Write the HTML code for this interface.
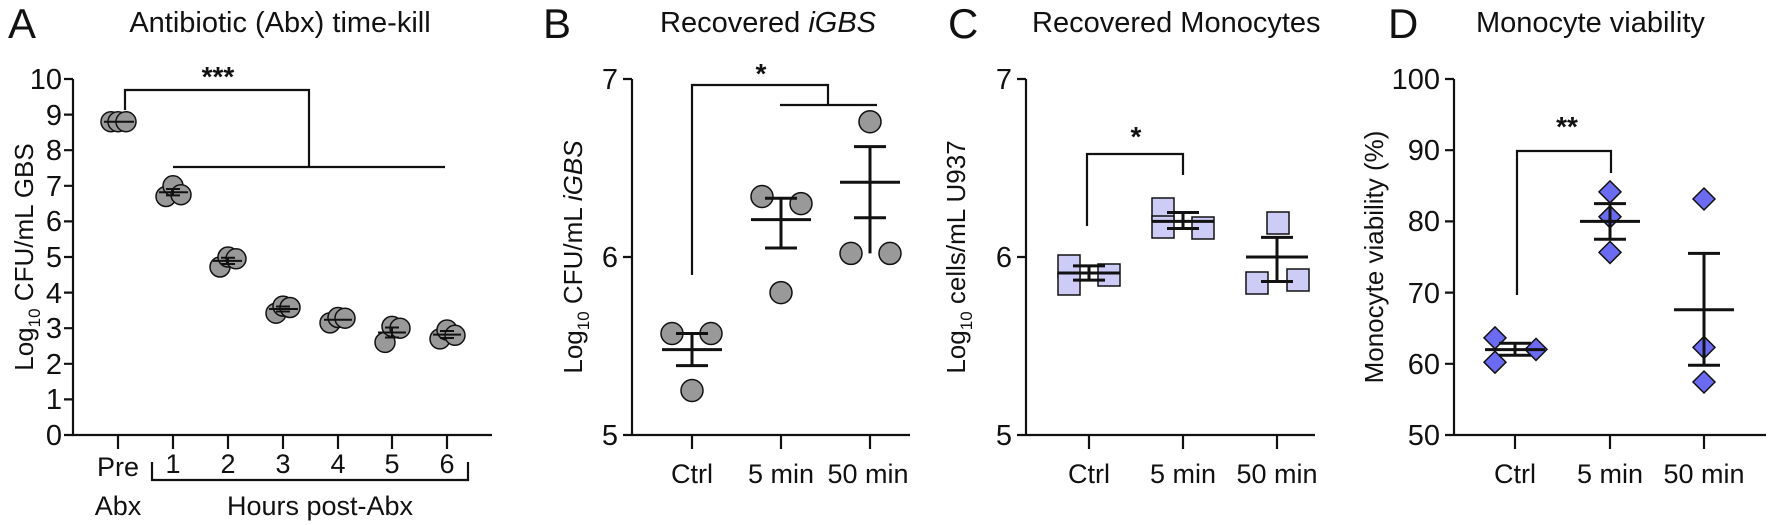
<!DOCTYPE html>
<html><head><meta charset="utf-8"><style>
html,body{margin:0;padding:0;background:#fff;}
svg{display:block;font-family:"Liberation Sans",Arial,sans-serif;}
</style></head><body>
<svg width="1770" height="525" viewBox="0 0 1770 525" xmlns="http://www.w3.org/2000/svg">
<g fill="#111">
<text x="8" y="38" font-size="42">A</text>
<text x="280" y="32" font-size="29" text-anchor="middle">Antibiotic (Abx) time-kill</text>
<text x="543" y="38" font-size="42">B</text>
<text x="660" y="32" font-size="29">Recovered <tspan font-style="italic">iGBS</tspan></text>
<text x="948" y="38" font-size="42">C</text>
<text x="1032" y="32" font-size="29">Recovered Monocytes</text>
<text x="1388" y="38" font-size="42">D</text>
<text x="1476" y="32" font-size="29">Monocyte viability</text>
</g>
<g stroke="#111" stroke-width="2.2" fill="none">
<path d="M73 79V435H492"/>
<path d="M64 79H73M64 114.6H73M64 150.2H73M64 185.8H73M64 221.4H73M64 257H73M64 292.6H73M64 328.2H73M64 363.8H73M64 399.4H73M64 435H73"/>
<path d="M118 435v14M173 435v14M228 435v14M283 435v14M338 435v14M392 435v14M447 435v14"/>
<path d="M152 462V480H468V462"/>
<path d="M125 110V90H309V167M173 167H445"/>
<path d="M632 79V435H910M623 79H632M623 257H632M623 435H632M692 435v14M781 435v14M870 435v14"/>
<path d="M692 275V85H828V105M780 105H877"/>
<path d="M1026 79V435H1315M1017 79H1026M1017 257H1026M1017 435H1026M1089 435v14M1183 435v14M1277 435v14"/>
<path d="M1087 226V154H1183V175"/>
<path d="M1454 79V435H1766M1445 79H1454M1445 150.2H1454M1445 221.4H1454M1445 292.6H1454M1445 363.8H1454M1445 435H1454M1515 435v14M1610 435v14M1704 435v14"/>
<path d="M1517 295V151H1611V173"/>
</g>
<g font-size="29" fill="#111" text-anchor="end">
<text x="62" y="89">10</text><text x="62" y="125">9</text><text x="62" y="160">8</text><text x="62" y="196">7</text><text x="62" y="231">6</text><text x="62" y="267">5</text><text x="62" y="303">4</text><text x="62" y="338">3</text><text x="62" y="374">2</text><text x="62" y="409">1</text><text x="62" y="445">0</text>
<text x="618" y="89">7</text><text x="618" y="267">6</text><text x="618" y="445">5</text>
<text x="1012" y="89">7</text><text x="1012" y="267">6</text><text x="1012" y="445">5</text>
<text x="1440" y="89">100</text><text x="1440" y="160">90</text><text x="1440" y="231">80</text><text x="1440" y="303">70</text><text x="1440" y="374">60</text><text x="1440" y="445">50</text>
</g>
<g font-size="27" fill="#111" text-anchor="middle">
<text x="118" y="476">Pre</text><text x="118" y="515">Abx</text>
<text x="173" y="473">1</text><text x="228" y="473">2</text><text x="283" y="473">3</text><text x="338" y="473">4</text><text x="392" y="473">5</text><text x="447" y="473">6</text>
<text x="320" y="515">Hours post-Abx</text>
<text x="692" y="483">Ctrl</text><text x="781" y="483">5 min</text><text x="868" y="483">50 min</text>
<text x="1089" y="483">Ctrl</text><text x="1183" y="483">5 min</text><text x="1277" y="483">50 min</text>
<text x="1515" y="483">Ctrl</text><text x="1610" y="483">5 min</text><text x="1704" y="483">50 min</text>
</g>
<g font-size="28" fill="#111" text-anchor="middle" font-weight="bold">
<text x="218" y="86">***</text>
<text x="761" y="83">*</text>
<text x="1136" y="146">*</text>
<text x="1567" y="136">**</text>
</g>
<g font-size="26" fill="#111" text-anchor="middle">
<text transform="translate(33,257) rotate(-90)">Log<tspan font-size="17" dy="7">10</tspan><tspan dy="-7"> CFU/mL GBS</tspan></text>
<text transform="translate(582,257) rotate(-90)">Log<tspan font-size="17" dy="7">10</tspan><tspan dy="-7"> CFU/mL </tspan><tspan font-style="italic">iGBS</tspan></text>
<text transform="translate(965,257) rotate(-90)">Log<tspan font-size="17" dy="7">10</tspan><tspan dy="-7"> cells/mL U937</tspan></text>
<text transform="translate(1383,257) rotate(-90)">Monocyte viability (%)</text>
</g>
<g fill="#999" stroke="#111" stroke-width="1.5">
<circle cx="111" cy="121.7" r="10"/><circle cx="118" cy="121.7" r="10"/><circle cx="126" cy="121.7" r="10"/>
<circle cx="166" cy="196.5" r="10"/><circle cx="173" cy="185.8" r="10"/><circle cx="181" cy="194.7" r="10"/>
<circle cx="220" cy="267" r="10"/><circle cx="228" cy="257" r="10"/><circle cx="236" cy="258.8" r="10"/>
<circle cx="276" cy="313.2" r="10"/><circle cx="283" cy="306.1" r="10"/><circle cx="290" cy="307.5" r="10"/>
<circle cx="330" cy="322.9" r="10"/><circle cx="338" cy="317.5" r="10"/><circle cx="345" cy="318.2" r="10"/>
<circle cx="385" cy="342.4" r="10"/><circle cx="392" cy="326.4" r="10"/><circle cx="400" cy="328.2" r="10"/>
<circle cx="440" cy="338.9" r="10"/><circle cx="447" cy="330" r="10"/><circle cx="455" cy="335.3" r="10"/>
</g>
<g stroke="#111" stroke-width="2" fill="none">
<path d="M104 121.7H134"/>
<path d="M159 192.2H188M166 189H180M166 195.4H180M173 189V195.4"/>
<path d="M213 260.9H242M221 257.8H235M221 264H235M228 257.8V264"/>
<path d="M269 309H298M276 306.5H290M276 311.5H290"/>
<path d="M324 319.7H352"/>
<path d="M378 332.5H406M385 327.5H399M385 337.5H399M392 327.5V337.5"/>
<path d="M433 334.6H461M440 331H454M440 338H454"/>
</g>
<g fill="#999" stroke="#111" stroke-width="1.5">
<circle cx="672" cy="333.5" r="11"/><circle cx="711" cy="333.5" r="11"/><circle cx="692" cy="390.5" r="11"/>
<circle cx="762" cy="196.5" r="11"/><circle cx="801" cy="203.6" r="11"/><circle cx="781" cy="292.6" r="11"/>
<circle cx="870" cy="121.7" r="11"/><circle cx="851" cy="253.4" r="11"/><circle cx="890" cy="253.4" r="11"/>
</g>
<g stroke="#111" stroke-width="3" fill="none">
<path d="M662 349.6H722M676 365.6H708M676 333.5H708M692 333.5V365.6"/>
<path d="M751 219.6H811M765 248H797M765 198.3H797M781 198.3V248"/>
<path d="M840 182.2H900M854 217.8H886M854 146.6H886M870 146.6V253.4"/>
</g>
<g fill="#ccccf7" stroke="#111" stroke-width="1.5">
<rect x="1058" y="255" width="22" height="22"/><rect x="1058" y="273" width="22" height="22"/><rect x="1098" y="264" width="22" height="22"/>
<rect x="1152" y="198" width="22" height="22"/><rect x="1152" y="216" width="22" height="22"/><rect x="1192" y="217" width="22" height="22"/>
<rect x="1267" y="212" width="22" height="22"/><rect x="1246" y="272" width="22" height="22"/><rect x="1287" y="269" width="22" height="22"/>
</g>
<g stroke="#111" stroke-width="3" fill="none">
<path d="M1058 273H1120M1073 280.1H1105M1073 265.9H1105M1089 265.9V280.1"/>
<path d="M1152 221.4H1214M1167 228.5H1199M1167 212.5H1199M1183 212.5V228.5"/>
<path d="M1246 257H1308M1261 281.5H1293M1261 237.4H1293M1277 237.4V281.5"/>
</g>
<g fill="#6b6bf2" stroke="#111" stroke-width="1.5">
<path d="M1495 326.9l11 11-11 11-11-11z"/><path d="M1495 351.2l11 11-11 11-11-11z"/><path d="M1536 338.4l11 11-11 11-11-11z"/>
<path d="M1610 180.9l11 11-11 11-11-11z"/><path d="M1610 205.8l11 11-11 11-11-11z"/><path d="M1610 241.4l11 11-11 11-11-11z"/>
<path d="M1704 188l11 11-11 11-11-11z"/><path d="M1704 336.4l11 11-11 11-11-11z"/><path d="M1704 371l11 11-11 11-11-11z"/>
</g>
<g stroke="#111" stroke-width="3" fill="none">
<path d="M1485 349.6H1545M1499 355.3H1531M1499 343.2H1531M1515 343.2V355.3"/>
<path d="M1580 221.4H1640M1594 239.2H1626M1594 203.6H1626M1610 203.6V239.2"/>
<path d="M1674 309.7H1734M1688 365.2H1720M1688 253.4H1720M1704 253.4V365.2"/>
</g>
</svg>
</body></html>
